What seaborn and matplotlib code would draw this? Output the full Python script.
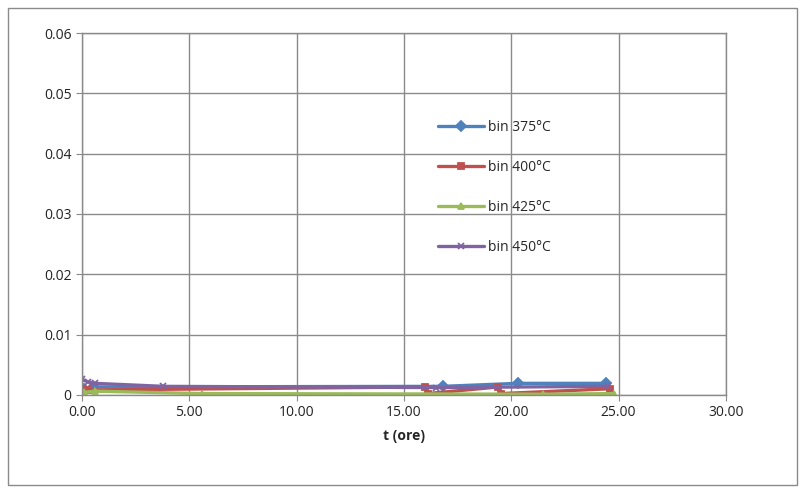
import numpy as np
import pandas as pd
import matplotlib
matplotlib.use("Agg")
import matplotlib.pyplot as plt
import seaborn as sns

sns.set_style("white")
plt.rcParams['font.family'] = ['Open Sans', 'DejaVu Sans']

# data (t in hours)
labels = ["bin 375°C", "bin 400°C", "bin 425°C", "bin 450°C"]

t_375 = [0.1, 0.5, 16.8, 20.3, 24.4]
v_375 = [0.0010, 0.0013, 0.0014, 0.0019, 0.0019]

t_400 = [0.0, 0.3, 16.0, 16.1, 19.4, 19.5, 24.6]
v_400 = [0.0010, 0.0008, 0.0013, 0.0002, 0.0013, 0.0002, 0.0010]

t_425 = [0.1, 0.6, 5.6, 21.5, 24.8]
v_425 = [0.0004, 0.0006, 0.0002, 0.0001, 0.0002]

t_450 = [0.0, 0.3, 0.6, 3.8, 16.5, 24.5]
v_450 = [0.0026, 0.0021, 0.0019, 0.0014, 0.0012, 0.0014]

colors = ["#4F81BD", "#C0504D", "#9BBB59", "#8064A2"]
markers = ["D", "s", "^", "x"]
xticks = [0, 5, 10, 15, 20, 25, 30]
yticks = [0, 0.01, 0.02, 0.03, 0.04, 0.05, 0.06]

fig = plt.figure(figsize=(8.03, 4.88), dpi=100)
ax = fig.add_axes([0.102, 0.191, 0.802, 0.741])

series = zip(labels, [t_375, t_400, t_425, t_450], [v_375, v_400, v_425, v_450], colors, markers)
for lab, t, v, c, m in series:
    d = pd.DataFrame({"t": t, "v": v})
    sns.lineplot(data=d, x="t", y="v", color=c, marker=m, label=lab,
                 estimator=None, sort=False, linewidth=2.4, markersize=5,
                 markeredgewidth=1.3, markeredgecolor=c, ax=ax)

ax.set_xlim(0, 30)
ax.set_ylim(0, 0.06)
ax.set_xticks(xticks)
ax.set_xticklabels([f"{x:.2f}" for x in xticks])
ax.set_yticks(yticks)
ax.set_yticklabels(["0"] + [f"{y:.2f}" for y in yticks[1:]])
ax.grid(True, color="#8a8a8a", linewidth=1.0)
ax.set_axisbelow(True)
for s in ax.spines.values():
    s.set_color("#8a8a8a")
    s.set_linewidth(1.0)
ax.tick_params(axis="both", which="major", length=4, color="#8a8a8a",
               labelsize=10, labelcolor="#222222", direction="out",
               bottom=True, left=True)
ax.set_xlabel("t (ore)", fontsize=10, fontweight="bold", labelpad=6)
ax.set_ylabel("")

ax.legend(loc="upper left", bbox_to_anchor=(0.545, 0.775), frameon=False,
          fontsize=10, handlelength=3.3, handletextpad=0.25, labelspacing=1.8,
          borderaxespad=0)

fig.patches.append(plt.Rectangle((0.01, 0.006), 0.982, 0.978, transform=fig.transFigure,
                                 fill=False, edgecolor="#8a8a8a", linewidth=1.0))

fig.savefig("out.png", dpi=100)
